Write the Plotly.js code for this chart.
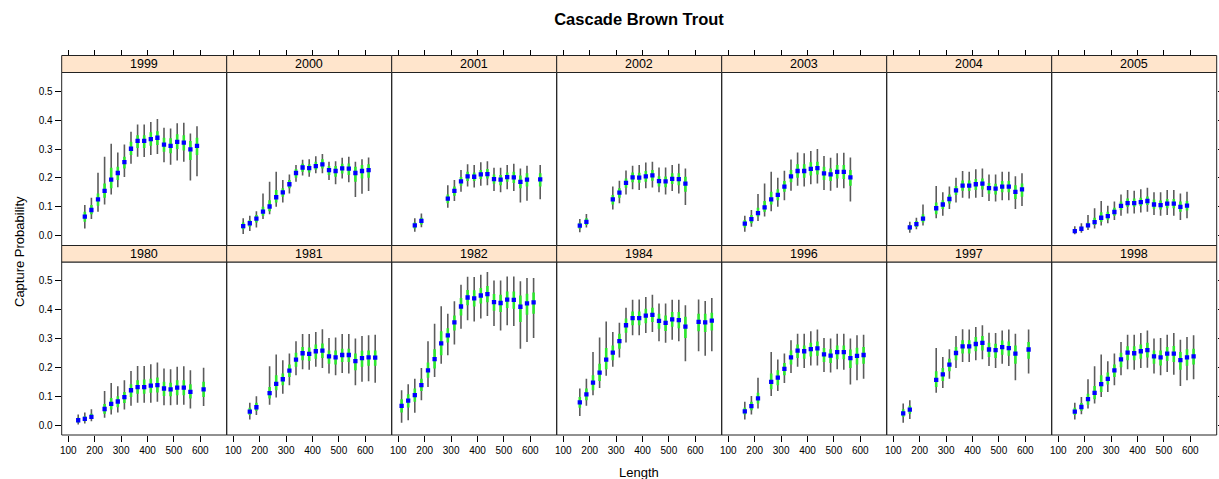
<!DOCTYPE html>
<html><head><meta charset="utf-8">
<script src="https://cdn.plot.ly/plotly-3.0.1.min.js"></script>
<style>html,body{margin:0;padding:0;background:#fff;} #chart{width:1219px;height:479px;}</style>
</head><body><div id="chart"></div>
<script>
// ---------- DATA ----------
// Length bins, point estimate, 95% interval (grey) and 50% interval (green)
const L1999 = [162.5,187.5,212.5,237.5,262.5,287.5,312.5,337.5,362.5,387.5,412.5,437.5,462.5,487.5,512.5,537.5,562.5,587.5];
const P1999 = [.066,.089,.126,.155,.194,.217,.255,.301,.328,.328,.334,.339,.315,.311,.325,.322,.299,.311];
const HI95_1999 = [.106,.131,.218,.273,.318,.288,.316,.360,.385,.385,.394,.404,.374,.371,.389,.391,.354,.379];
const LO95_1999 = [.025,.058,.083,.108,.143,.168,.203,.249,.273,.272,.279,.283,.254,.246,.260,.256,.191,.206];
const HI50_1999 = [.083,.106,.146,.181,.235,.239,.273,.325,.348,.348,.358,.362,.339,.337,.351,.348,.328,.339];
const LO50_1999 = [.048,.074,.104,.131,.164,.193,.233,.279,.304,.304,.311,.314,.291,.285,.300,.295,.262,.279];

const L2000 = [137.5,162.5,187.5,212.5,237.5,262.5,287.5,312.5,337.5,362.5,387.5,412.5,437.5,462.5,487.5,512.5,537.5,562.5,587.5,612.5];
const P2000 = [.033,.043,.059,.083,.101,.133,.150,.178,.217,.236,.234,.241,.247,.227,.224,.233,.232,.217,.224,.227];
const HI95_2000 = [.060,.069,.085,.146,.187,.221,.193,.212,.245,.263,.265,.275,.283,.256,.258,.270,.273,.256,.265,.271];
const LO95_2000 = [.006,.016,.028,.058,.074,.100,.115,.146,.187,.208,.204,.216,.216,.193,.178,.198,.185,.134,.145,.155];
const HI50_2000 = [.046,.054,.072,.100,.123,.158,.164,.193,.231,.249,.247,.256,.265,.241,.241,.249,.250,.239,.245,.247];
const LO50_2000 = [.022,.031,.046,.069,.085,.115,.135,.164,.201,.221,.219,.228,.233,.210,.204,.215,.210,.187,.198,.201];

const L2001 = [162.5,187.5,287.5,312.5,337.5,362.5,387.5,412.5,437.5,462.5,487.5,512.5,537.5,562.5,587.5,637.5];
const P2001 = [.036,.051,.128,.155,.188,.205,.204,.212,.213,.196,.194,.203,.202,.186,.194,.195];
const HI95_2001 = [.060,.077,.175,.193,.227,.247,.245,.254,.258,.235,.235,.245,.249,.233,.242,.245];
const LO95_2001 = [.014,.029,.097,.120,.152,.170,.167,.173,.175,.155,.150,.161,.155,.115,.121,.126];
const HI50_2001 = [.046,.062,.143,.170,.203,.221,.219,.227,.231,.212,.210,.219,.221,.208,.216,.216];
const LO50_2001 = [.025,.039,.112,.138,.173,.189,.189,.196,.198,.180,.175,.187,.182,.164,.170,.170];

const L2002 = [162.5,187.5,287.5,312.5,337.5,362.5,387.5,412.5,437.5,462.5,487.5,512.5,537.5,562.5];
const P2002 = [.035,.048,.126,.149,.183,.202,.201,.205,.209,.189,.188,.197,.196,.180];
const HI95_2002 = [.058,.075,.170,.190,.226,.242,.245,.253,.256,.236,.236,.245,.249,.233];
const LO95_2002 = [.012,.028,.091,.112,.143,.161,.158,.164,.167,.150,.143,.155,.146,.106];
const HI50_2002 = [.045,.060,.141,.164,.198,.219,.218,.224,.227,.206,.205,.216,.216,.204];
const LO50_2002 = [.024,.037,.108,.131,.166,.185,.183,.187,.190,.170,.168,.179,.175,.152];

const L2003 = [162.5,187.5,212.5,237.5,262.5,287.5,312.5,337.5,362.5,387.5,412.5,437.5,462.5,487.5,512.5,537.5,562.5];
const P2003 = [.042,.057,.078,.098,.126,.141,.170,.205,.224,.224,.231,.234,.216,.212,.221,.221,.202];
const HI95_2003 = [.069,.089,.144,.181,.221,.201,.225,.264,.288,.285,.293,.300,.276,.270,.285,.287,.271];
const LO95_2003 = [.014,.031,.051,.066,.085,.100,.123,.156,.173,.170,.178,.181,.158,.156,.166,.164,.118];
const HI50_2003 = [.054,.072,.097,.120,.152,.161,.189,.227,.247,.247,.254,.256,.239,.233,.245,.245,.227];
const LO50_2003 = [.028,.043,.066,.083,.108,.123,.152,.185,.201,.201,.208,.212,.193,.189,.198,.196,.173];

const L2004 = [162.5,187.5,212.5,262.5,287.5,312.5,337.5,362.5,387.5,412.5,437.5,462.5,487.5,512.5,537.5,562.5,587.5];
const P2004 = [.029,.040,.059,.095,.108,.127,.157,.173,.173,.178,.180,.165,.163,.170,.170,.152,.160];
const HI95_2004 = [.048,.062,.108,.172,.150,.170,.201,.224,.221,.230,.233,.212,.212,.221,.221,.206,.216];
const LO95_2004 = [.010,.022,.035,.060,.069,.092,.115,.131,.129,.131,.134,.120,.118,.123,.123,.092,.103];
const HI50_2004 = [.037,.051,.074,.115,.123,.143,.172,.191,.191,.196,.198,.182,.180,.189,.189,.175,.181];
const LO50_2004 = [.020,.030,.046,.074,.092,.111,.141,.156,.155,.158,.160,.145,.143,.150,.150,.127,.135];

const L2005 = [162.5,187.5,212.5,237.5,262.5,287.5,312.5,337.5,362.5,387.5,412.5,437.5,462.5,487.5,512.5,537.5,562.5,587.5];
const P2005 = [.016,.024,.036,.047,.062,.068,.082,.103,.113,.113,.116,.120,.108,.106,.111,.111,.100,.104];
const HI95_2005 = [.033,.043,.072,.095,.120,.104,.118,.143,.158,.156,.161,.166,.150,.150,.158,.158,.146,.152];
const LO95_2005 = [.005,.010,.020,.025,.035,.043,.054,.069,.077,.077,.080,.083,.072,.069,.072,.069,.054,.060];
const HI50_2005 = [.023,.031,.046,.062,.081,.083,.097,.118,.129,.129,.131,.136,.125,.122,.127,.127,.118,.120];
const LO50_2005 = [.009,.016,.028,.037,.048,.055,.069,.089,.100,.100,.103,.106,.093,.091,.095,.095,.083,.087];

const L1980 = [137.5,162.5,187.5,237.5,262.5,287.5,312.5,337.5,362.5,387.5,412.5,437.5,462.5,487.5,512.5,537.5,562.5,612.5];
const P1980 = [.017,.022,.029,.056,.074,.082,.097,.121,.132,.132,.137,.139,.127,.124,.130,.130,.115,.124];
const HI95_1980 = [.037,.044,.055,.118,.146,.135,.156,.188,.205,.205,.211,.217,.196,.194,.202,.204,.190,.199];
const LO95_1980 = [.002,.006,.014,.026,.037,.044,.054,.067,.078,.078,.078,.081,.069,.069,.071,.071,.058,.066];
const HI50_1980 = [.026,.031,.040,.073,.094,.100,.115,.142,.156,.158,.161,.165,.150,.147,.156,.156,.142,.150];
const LO50_1980 = [.009,.014,.021,.040,.054,.062,.077,.098,.109,.109,.112,.113,.101,.100,.104,.104,.092,.098];

const L1981 = [162.5,187.5,237.5,262.5,287.5,312.5,337.5,362.5,387.5,412.5,437.5,462.5,487.5,512.5,537.5,562.5,587.5,612.5,637.5];
const P1981 = [.047,.062,.111,.143,.159,.189,.227,.249,.247,.256,.258,.238,.235,.243,.243,.222,.232,.235,.234];
const HI95_1981 = [.078,.100,.204,.245,.225,.248,.291,.316,.316,.323,.332,.302,.304,.316,.316,.300,.309,.311,.313];
const LO95_1981 = [.020,.035,.071,.096,.109,.138,.173,.194,.192,.202,.198,.179,.173,.181,.179,.138,.150,.152,.147];
const HI50_1981 = [.060,.078,.132,.173,.179,.210,.251,.271,.269,.279,.283,.259,.259,.265,.265,.248,.258,.259,.259];
const LO50_1981 = [.035,.050,.092,.121,.138,.167,.202,.225,.222,.230,.233,.213,.210,.219,.219,.190,.202,.206,.206];

const L1982 = [112.5,137.5,162.5,187.5,212.5,237.5,262.5,287.5,312.5,337.5,362.5,387.5,412.5,437.5,462.5,487.5,512.5,537.5,562.5,587.5,612.5];
const P1982 = [.067,.085,.104,.139,.190,.229,.283,.311,.356,.411,.442,.439,.449,.454,.426,.423,.435,.434,.410,.422,.425];
const HI95_1982 = [.121,.142,.161,.198,.291,.351,.412,.386,.429,.486,.514,.513,.521,.530,.501,.501,.515,.515,.498,.510,.510];
const LO95_1982 = [.008,.017,.043,.086,.132,.167,.213,.242,.279,.334,.363,.359,.369,.378,.343,.328,.346,.343,.265,.288,.302];
const HI50_1982 = [.090,.107,.127,.161,.217,.263,.325,.336,.380,.440,.468,.467,.475,.482,.454,.452,.463,.463,.449,.455,.459];
const LO50_1982 = [.044,.061,.081,.118,.164,.196,.242,.286,.328,.380,.415,.411,.421,.426,.396,.392,.406,.403,.357,.382,.386];

const L1984 = [162.5,187.5,212.5,237.5,262.5,287.5,312.5,337.5,362.5,387.5,412.5,437.5,462.5,487.5,512.5,537.5,562.5,612.5,637.5,662.5];
const P1984 = [.079,.107,.147,.182,.227,.251,.291,.346,.371,.371,.379,.382,.361,.354,.366,.364,.341,.358,.356,.362];
const HI95_1984 = [.127,.161,.253,.304,.359,.323,.355,.407,.434,.435,.444,.452,.421,.421,.434,.434,.415,.435,.430,.440];
const LO95_1984 = [.032,.067,.104,.129,.171,.202,.234,.286,.311,.311,.319,.323,.291,.285,.296,.291,.221,.256,.240,.256];
const HI50_1984 = [.098,.127,.173,.213,.267,.276,.317,.369,.394,.394,.403,.407,.386,.380,.392,.392,.375,.386,.386,.389];
const LO50_1984 = [.060,.086,.121,.153,.194,.225,.265,.320,.346,.346,.353,.357,.334,.326,.341,.336,.302,.325,.323,.328];

const L1996 = [162.5,187.5,212.5,262.5,287.5,312.5,337.5,362.5,387.5,412.5,437.5,462.5,487.5,512.5,537.5,562.5,587.5,612.5];
const P1996 = [.048,.066,.093,.150,.165,.195,.235,.258,.256,.263,.266,.245,.241,.253,.253,.232,.240,.243];
const HI95_1996 = [.081,.101,.164,.253,.227,.248,.294,.317,.317,.325,.331,.302,.300,.317,.317,.300,.311,.313];
const LO95_1996 = [.020,.037,.058,.101,.118,.146,.181,.202,.198,.207,.207,.184,.182,.194,.192,.141,.156,.161];
const HI50_1996 = [.060,.081,.112,.179,.190,.215,.259,.279,.276,.285,.290,.267,.263,.276,.276,.262,.268,.271];
const LO50_1996 = [.037,.052,.075,.124,.138,.173,.210,.233,.230,.238,.240,.219,.215,.228,.228,.198,.210,.213];

const L1997 = [137.5,162.5,262.5,287.5,312.5,337.5,362.5,387.5,412.5,437.5,462.5,487.5,512.5,537.5,562.5,612.5];
const P1997 = [.041,.054,.157,.176,.210,.250,.273,.273,.281,.285,.262,.260,.270,.267,.248,.262];
const HI95_1997 = [.075,.086,.267,.236,.263,.309,.332,.331,.340,.346,.320,.319,.328,.331,.317,.331];
const LO95_1997 = [.008,.021,.112,.129,.161,.198,.219,.219,.225,.228,.205,.198,.213,.205,.156,.179];
const HI50_1997 = [.055,.067,.187,.198,.230,.271,.294,.294,.305,.309,.285,.282,.293,.290,.276,.288];
const LO50_1997 = [.029,.040,.132,.153,.187,.225,.248,.248,.256,.259,.236,.233,.244,.240,.213,.230];

const L1998 = [162.5,187.5,212.5,237.5,262.5,287.5,312.5,337.5,362.5,387.5,412.5,437.5,462.5,487.5,512.5,537.5,562.5,587.5,612.5];
const P1998 = [.047,.063,.090,.112,.142,.160,.190,.228,.251,.249,.256,.260,.238,.235,.248,.248,.225,.235,.238];
const HI95_1998 = [.078,.098,.159,.204,.245,.221,.248,.288,.313,.313,.319,.328,.300,.302,.313,.319,.296,.305,.311];
const LO95_1998 = [.020,.038,.058,.075,.098,.115,.138,.173,.194,.192,.198,.199,.179,.173,.184,.175,.136,.156,.159];
const HI50_1998 = [.060,.077,.109,.136,.173,.182,.210,.251,.273,.273,.279,.285,.259,.259,.271,.274,.253,.263,.265];
const LO50_1998 = [.035,.050,.071,.090,.115,.141,.167,.201,.225,.225,.230,.234,.213,.207,.222,.219,.192,.206,.210];

const xTicks = [100,200,300,400,500,600];
const yTicks = [0,0.1,0.2,0.3,0.4,0.5];
const yTickText = ["0.0","0.1","0.2","0.3","0.4","0.5"];

// panel table (top row first, left to right)
const panels = [
  ["1999",L1999,P1999,LO95_1999,HI95_1999,LO50_1999,HI50_1999],
  ["2000",L2000,P2000,LO95_2000,HI95_2000,LO50_2000,HI50_2000],
  ["2001",L2001,P2001,LO95_2001,HI95_2001,LO50_2001,HI50_2001],
  ["2002",L2002,P2002,LO95_2002,HI95_2002,LO50_2002,HI50_2002],
  ["2003",L2003,P2003,LO95_2003,HI95_2003,LO50_2003,HI50_2003],
  ["2004",L2004,P2004,LO95_2004,HI95_2004,LO50_2004,HI50_2004],
  ["2005",L2005,P2005,LO95_2005,HI95_2005,LO50_2005,HI50_2005],
  ["1980",L1980,P1980,LO95_1980,HI95_1980,LO50_1980,HI50_1980],
  ["1981",L1981,P1981,LO95_1981,HI95_1981,LO50_1981,HI50_1981],
  ["1982",L1982,P1982,LO95_1982,HI95_1982,LO50_1982,HI50_1982],
  ["1984",L1984,P1984,LO95_1984,HI95_1984,LO50_1984,HI50_1984],
  ["1996",L1996,P1996,LO95_1996,HI95_1996,LO50_1996,HI50_1996],
  ["1997",L1997,P1997,LO95_1997,HI95_1997,LO50_1997,HI50_1997],
  ["1998",L1998,P1998,LO95_1998,HI95_1998,LO50_1998,HI50_1998]
];

// ---------- LAYOUT GEOMETRY ----------
const W = 1219, H = 479;
const FONT = '"Liberation Sans", Arial, Helvetica, sans-serif';
const colLeft = 61.7, colW = 165;
const rowsGeom = [
  {top: 72.5, bottom: 245.5, stripTop: 55.5},
  {top: 262, bottom: 435, stripTop: 245.5}
];
const py = p => 1 - p / H;

function segs(xs, lo, hi) {
  const x = [], y = [];
  xs.forEach((v, i) => { x.push(v, v, null); y.push(lo[i], hi[i], null); });
  return {x, y};
}

const data = [];
const layout = {
  width: W, height: H, autosize: false,
  margin: {l: 0, r: 0, t: 0, b: 0},
  paper_bgcolor: '#fff', plot_bgcolor: '#fff',
  showlegend: false,
  font: {family: FONT, color: '#000', size: 10},
  title: {text: 'Cascade Brown Trout', font: {family: FONT, size: 16.5, color: '#000', weight: 'bold'},
          x: 639 / W, xanchor: 'center', xref: 'container', y: 1 - 19 / H, yanchor: 'middle', yref: 'container'},
  shapes: [], annotations: []
};

panels.forEach((p, i) => {
  const [year, Ls, Ps, lo95, hi95, lo50, hi50] = p;
  const r = Math.floor(i / 7), c = i % 7;
  const n = i + 1, sfx = n === 1 ? '' : String(n);
  const xa = 'x' + sfx, ya = 'y' + sfx;
  const g = rowsGeom[r];
  const x0 = (colLeft + colW * c) / W, x1 = (colLeft + colW * (c + 1)) / W;

  const grey = segs(Ls, lo95, hi95);
  data.push({type: 'scatter', mode: 'lines', x: grey.x, y: grey.y, xaxis: xa, yaxis: ya,
    line: {color: '#5c5c5c', width: 1.6}, hoverinfo: 'skip', connectgaps: false});
  const green = segs(Ls, lo50, hi50);
  data.push({type: 'scatter', mode: 'lines', x: green.x, y: green.y, xaxis: xa, yaxis: ya,
    line: {color: '#2ee82e', width: 2.6}, hoverinfo: 'skip', connectgaps: false});
  data.push({type: 'scatter', mode: 'markers', x: Ls, y: Ps, xaxis: xa, yaxis: ya,
    marker: {symbol: 'square', size: 4.3, color: '#0000ff', line: {width: 0}}, hoverinfo: 'skip'});

  const xax = {
    domain: [x0, x1], range: [75, 700], showgrid: false, zeroline: false, showline: false,
    tickvals: xTicks, ticktext: xTicks.map(String), ticks: 'outside', ticklen: 6, tickwidth: 1, tickcolor: '#000',
    tickfont: {family: FONT, size: 10, color: '#000'}, fixedrange: true
  };
  if (r === 0) {
    Object.assign(xax, {anchor: 'free', position: py(g.stripTop), side: 'top', showticklabels: false});
  } else {
    Object.assign(xax, {anchor: ya, side: 'bottom', showticklabels: true});
  }
  const yax = {
    domain: [py(g.bottom), py(g.top)], range: [-0.034, 0.565], anchor: xa,
    showgrid: false, zeroline: false, showline: false,
    tickvals: yTicks, ticktext: yTickText, tickwidth: 1, tickcolor: '#000', ticklen: 6,
    tickfont: {family: FONT, size: 10, color: '#000'}, fixedrange: true
  };
  if (c === 0) Object.assign(yax, {side: 'left', ticks: 'outside', showticklabels: true});
  else if (c === 6) Object.assign(yax, {side: 'right', ticks: 'outside', showticklabels: false});
  else Object.assign(yax, {ticks: '', showticklabels: false});

  layout['xaxis' + sfx] = xax;
  layout['yaxis' + sfx] = yax;

  // panel frame
  layout.shapes.push({type: 'rect', xref: xa + ' domain', yref: ya + ' domain', x0: 0, x1: 1, y0: 0, y1: 1,
    line: {color: '#222', width: 1}, fillcolor: 'rgba(0,0,0,0)', layer: 'above'});
  // strip
  layout.shapes.push({type: 'rect', xref: xa + ' domain', yref: 'paper', x0: 0, x1: 1,
    y0: py(g.top), y1: py(g.stripTop), line: {color: '#222', width: 1}, fillcolor: '#ffe5cc', layer: 'above'});
  layout.annotations.push({text: year, xref: xa + ' domain', yref: 'paper', x: 0.5,
    y: py((g.top + g.stripTop) / 2), xanchor: 'center', yanchor: 'middle', showarrow: false,
    font: {family: FONT, size: 12.5, color: '#000'}});
});

layout.annotations.push({text: 'Length', xref: 'paper', yref: 'paper', x: 639 / W, y: py(472),
  xanchor: 'center', yanchor: 'middle', showarrow: false, font: {family: FONT, size: 13, color: '#000'}});
layout.annotations.push({text: 'Capture Probability', xref: 'paper', yref: 'paper', x: 19 / W, y: py(252),
  xanchor: 'center', yanchor: 'middle', textangle: -90, showarrow: false, font: {family: FONT, size: 13, color: '#000'}});

Plotly.newPlot('chart', data, layout, {displayModeBar: false, staticPlot: true});
</script>
</body></html>
